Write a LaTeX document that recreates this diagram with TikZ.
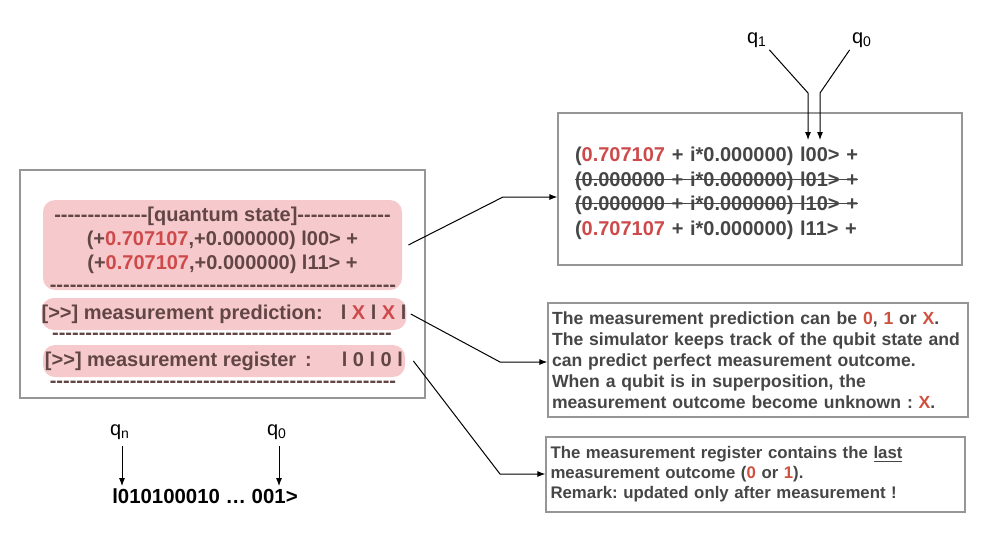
\documentclass[tikz,border=0pt]{standalone}
\usepackage{fontspec}
\setmainfont{Liberation Sans}[Ligatures=TeXOff]
\usetikzlibrary{arrows.meta,positioning,calc}
\definecolor{pinkfill}{RGB}{246,202,204}
\definecolor{statered}{RGB}{206,74,74}
\definecolor{statetext}{RGB}{98,70,70}
\definecolor{notetext}{RGB}{70,70,70}
\definecolor{notered}{RGB}{208,80,62}
\definecolor{framegray}{RGB}{150,150,150}
\newcommand\dashrow[1]{\foreach\k in {1,...,#1}{-}}
\newcommand\rd[1]{\textcolor{statered}{#1}}
\newcommand\nrd[1]{\textcolor{notered}{#1}}
\newsavebox\strikebox
\newcommand\strikeout[1]{\leavevmode\sbox\strikebox{#1}\rlap{\usebox\strikebox}\rule[0.33em]{\wd\strikebox}{0.5pt}}
\frenchspacing

\begin{document}
\begin{tikzpicture}[x=0.5pt, y=-0.5pt,
        frame/.style={draw=framegray, line width=0.6pt, inner sep=0pt},
        pinkbox/.style={fill=pinkfill, rounded corners=6pt, inner sep=0pt, minimum width=181pt, minimum height=16pt, font=\fontsize{10}{12}\selectfont\bfseries, text=statetext},
        dashes/.style={inner sep=0pt, font=\fontsize{10}{12}\selectfont\bfseries, text=statetext},
        note/.style={frame, align=left, text=notetext, font=\bfseries},
        lbl/.style={font=\fontsize{10}{12}\selectfont, inner sep=1pt},
        arr/.style={-{Latex[length=4pt,width=3pt]}, line width=0.5pt}
    ]
        \useasboundingbox (0,0) rectangle (1000,542);

        % console output
        \node[frame, minimum width=202.5pt, minimum height=114pt] (console) at (222.5,284) {};
        \node[pinkbox, minimum width=179.5pt, minimum height=45pt] (state) at (222.5,245) {};
        \node[dashes, align=center] (statelines) at (222.5,240) {\dashrow{14}[quantum state]\dashrow{14}\\(+\rd{0.707107},+0.000000) l00> +\\(+\rd{0.707107},+0.000000) l11> +};
        \node[dashes] (rule1) at (223,288) {\dashrow{52}};
        \node[pinkbox] (predict) at (224,314) {[>>] measurement prediction:\hspace{9pt}l \rd{X} l \rd{X} l};
        \node[dashes] (rule2) at (222,336) {\dashrow{51}};
        \node[pinkbox] (register) at (224,361) {[>>] measurement register\hspace{4.5pt}:\hspace{15pt}l 0 l 0 l};
        \node[dashes] (rule3) at (223,384) {\dashrow{52}};

        % amplitudes
        \node[frame, align=left, text width=185pt, minimum width=202pt, minimum height=76pt, text=notetext, font=\fontsize{10}{12.2}\selectfont\bfseries] (amps) at (760,189) {\rule{0pt}{11.5pt}(\rd{0.707107} + i*0.000000) l00> +\\\strikeout{(0.000000 + i*0.000000) l01> +}\\\strikeout{(0.000000 + i*0.000000) l10> +}\\(\rd{0.707107} + i*0.000000) l11> +};
        \node[lbl] (qone) at (757,40) {q\textsubscript{1}};
        \node[lbl] (qzero) at (862,40) {q\textsubscript{0}};
        \coordinate (b1) at (808,93);
        \coordinate (t1) at (808,140);
        \coordinate (b0) at (820,93);
        \coordinate (t0) at (820,140);
        \draw[arr] (qone.south east) -- (b1) -- (t1);
        \draw[arr] (qzero.south west) -- (b0) -- (t0);

        % explanations
        \node[note, text width=206pt, minimum width=210pt, minimum height=57pt, font=\fontsize{8.8}{10.5}\selectfont\bfseries] (notepred) at (758,360) {The measurement prediction can be \nrd{0}, \nrd{1} or \nrd{X}.\\The simulator keeps track of the qubit state and\\can predict perfect measurement outcome.\\When a qubit is in superposition, the\\measurement outcome become unknown : \nrd{X}.};
        \node[note, text width=205pt, minimum width=209.5pt, minimum height=37.5pt, font=\fontsize{8.4}{10}\selectfont\bfseries] (notereg) at (755.5,474.5) {The measurement register contains the \underline{last}\\measurement outcome (\nrd{0} or \nrd{1}).\\Remark: updated only after measurement !};

        \coordinate (k1) at (503,197);
        \coordinate (k2) at (500,362);
        \coordinate (k3) at (500,474);
        \draw[arr] ([xshift=3pt]state.east) -- (k1) -- (k1 -| amps.west);
        \draw[arr] ([xshift=2pt]predict.east) -- (k2) -- (k2 -| notepred.west);
        \draw[arr] ([xshift=4pt]register.east) -- (k3) -- (k3 -| notereg.west);

        % bit ordering
        \node[font=\fontsize{10.2}{12}\selectfont\bfseries, inner sep=1pt] (ket) at (205,496) {l010100010 … 001>};
        \node[lbl] (qn) at (120,432) {q\textsubscript{n}};
        \node[lbl] (qz) at (277,432) {q\textsubscript{0}};
        \draw[arr] ([xshift=1pt,yshift=-2pt]qn.south) -- ([xshift=1pt]qn.south |- ket.north);
        \draw[arr] ([xshift=1pt,yshift=-2pt]qz.south) -- ([xshift=1pt]qz.south |- ket.north);
    \end{tikzpicture}
\end{document}
